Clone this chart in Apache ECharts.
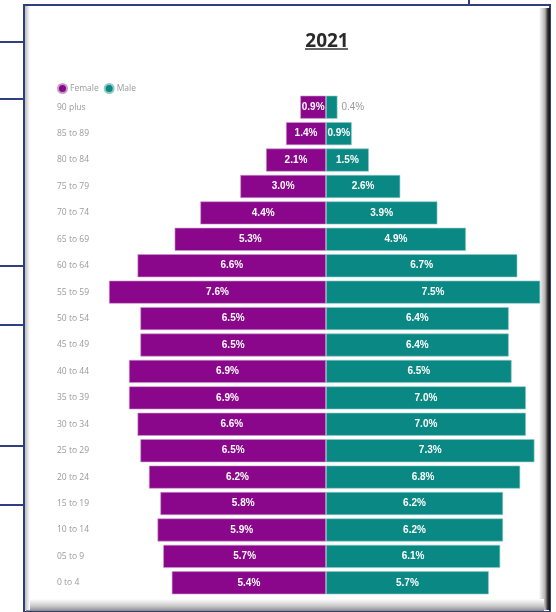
<!DOCTYPE html>
<html lang="en">
  <head>
    <meta charset="UTF-8" />
    <title>Population pyramid 2021</title>
    <script src="https://cdn.jsdelivr.net/npm/echarts@6.0.0/dist/echarts.min.js"></script>
    <style>
      html, body { margin: 0; padding: 0; background: #fff; }
    </style>
  </head>
  <body>
    <div id="main" style="width: 556px; height: 612px"></div>
    <script type="text/javascript">
      // age groups, top of the pyramid first
      const ageGroups = [
        '90 plus', '85 to 89', '80 to 84', '75 to 79', '70 to 74', '65 to 69',
        '60 to 64', '55 to 59', '50 to 54', '45 to 49', '40 to 44', '35 to 39',
        '30 to 34', '25 to 29', '20 to 24', '15 to 19', '10 to 14', '05 to 9', '0 to 4',
      ];
      // share of population, %
      const femaleValues = [0.9, 1.4, 2.1, 3.0, 4.4, 5.3, 6.6, 7.6, 6.5, 6.5, 6.9, 6.9, 6.6, 6.5, 6.2, 5.8, 5.9, 5.7, 5.4];
      const maleValues = [0.4, 0.9, 1.5, 2.6, 3.9, 4.9, 6.7, 7.5, 6.4, 6.4, 6.5, 7.0, 7.0, 7.3, 6.8, 6.2, 6.2, 6.1, 5.7];

      const purple = '#8A068A';
      const teal = '#0A8984';
      const navy = '#2E3E7E';

      const myChart = echarts.init(document.getElementById('main'), null, {
        width: 556,
        height: 612,
      });

      const pct = (v) => Math.abs(v).toFixed(1) + '%';

      // frame decoration around the visual
      const sideLines = [42, 99, 266, 325, 446, 505].map((y) => ({
        type: 'line',
        shape: { x1: 0, y1: y, x2: 24, y2: y },
        style: { stroke: navy, lineWidth: 2 },
        z: -10,
      }));

      const option = {
        animation: false,
        backgroundColor: '#fff',
        graphic: [
          ...sideLines,
          {
            type: 'line',
            shape: { x1: 469, y1: 0, x2: 469, y2: 5 },
            style: { stroke: navy, lineWidth: 2 },
            z: -10,
          },
          {
            type: 'rect',
            shape: { x: 24, y: 5, width: 526, height: 607 },
            style: { fill: '#fff', stroke: navy, lineWidth: 2 },
            z: -10,
          },
          {
            // right shadow
            type: 'rect',
            shape: { x: 539, y: 8, width: 11, height: 602 },
            style: {
              fill: new echarts.graphic.LinearGradient(0, 0, 1, 0, [
                { offset: 0, color: '#ffffff' },
                { offset: 0.55, color: '#b0b0b0' },
                { offset: 0.8, color: '#303030' },
                { offset: 1, color: '#101010' },
              ]),
            },
            z: -9,
          },
          {
            // bottom bevel
            type: 'rect',
            shape: { x: 26, y: 599, width: 518, height: 12 },
            style: {
              fill: new echarts.graphic.LinearGradient(0, 0, 0, 1, [
                { offset: 0, color: '#ffffff' },
                { offset: 0.6, color: '#c8c8c8' },
                { offset: 1, color: '#8a8a8a' },
              ]),
            },
            z: -9,
          },
          {
            // left bevel
            type: 'rect',
            shape: { x: 25, y: 6, width: 5, height: 604 },
            style: {
              fill: new echarts.graphic.LinearGradient(0, 0, 1, 0, [
                { offset: 0, color: '#bdbdbd' },
                { offset: 1, color: '#ffffff' },
              ]),
            },
            z: -9,
          },
          {
            // title underline
            type: 'line',
            shape: { x1: 305, y1: 49, x2: 348, y2: 49 },
            style: { stroke: '#333', lineWidth: 1.5 },
          },
        ],
        title: {
          text: '2021',
          left: 322,
          top: 27,
          textAlign: 'center',
          textStyle: {
            fontFamily: 'Open Sans',
            fontWeight: 'bold',
            fontSize: 19,
            color: '#2a2a2a',
          },
        },
        legend: {
          left: 52,
          top: 78,
          icon: 'circle',
          itemWidth: 9,
          itemHeight: 9,
          itemGap: 5,
          textStyle: { fontFamily: 'Open Sans', fontSize: 8.5, color: '#9a9a9a', padding: [0, 0, 0, -2] },
          data: ['Female', 'Male'],
        },
        grid: {
          left: 109,
          right: 13,
          top: 94,
          height: 502,
        },
        xAxis: {
          type: 'value',
          min: -7.6,
          max: 7.6,
          show: false,
        },
        yAxis: {
          type: 'category',
          inverse: true,
          data: ageGroups,
          axisLine: { show: false },
          axisTick: { show: false },
          axisLabel: {
            align: 'left',
            margin: 52,
            fontFamily: 'Open Sans',
            fontSize: 8.5,
            color: '#9a9a9a',
          },
        },
        series: [
          {
            name: 'Female',
            type: 'bar',
            barWidth: 23,
            barGap: '-100%',
            itemStyle: { color: purple, borderColor: '#c79bc7', borderWidth: 0.6 },
            label: {
              show: true,
              position: 'inside',
              formatter: (p) => pct(p.value),
              color: '#fff',
              fontFamily: 'Liberation Sans',
              fontWeight: 'bold',
              fontSize: 10,
            },
            data: femaleValues.map((v) => -v),
          },
          {
            name: 'Male',
            type: 'bar',
            barWidth: 23,
            barGap: '-100%',
            itemStyle: { color: teal, borderColor: '#8fcac6', borderWidth: 0.6 },
            label: {
              show: true,
              position: 'inside',
              formatter: (p) => pct(p.value),
              color: '#fff',
              fontFamily: 'Liberation Sans',
              fontWeight: 'bold',
              fontSize: 10,
            },
            // too small a bar: label goes outside in grey
            data: maleValues.map((v) =>
              v < 0.6
                ? { value: v, label: { position: 'right', color: '#9a9a9a', fontWeight: 'normal', distance: 4 } }
                : v
            ),
          },
        ],
      };

      myChart.setOption(option);
    </script>
  </body>
</html>
